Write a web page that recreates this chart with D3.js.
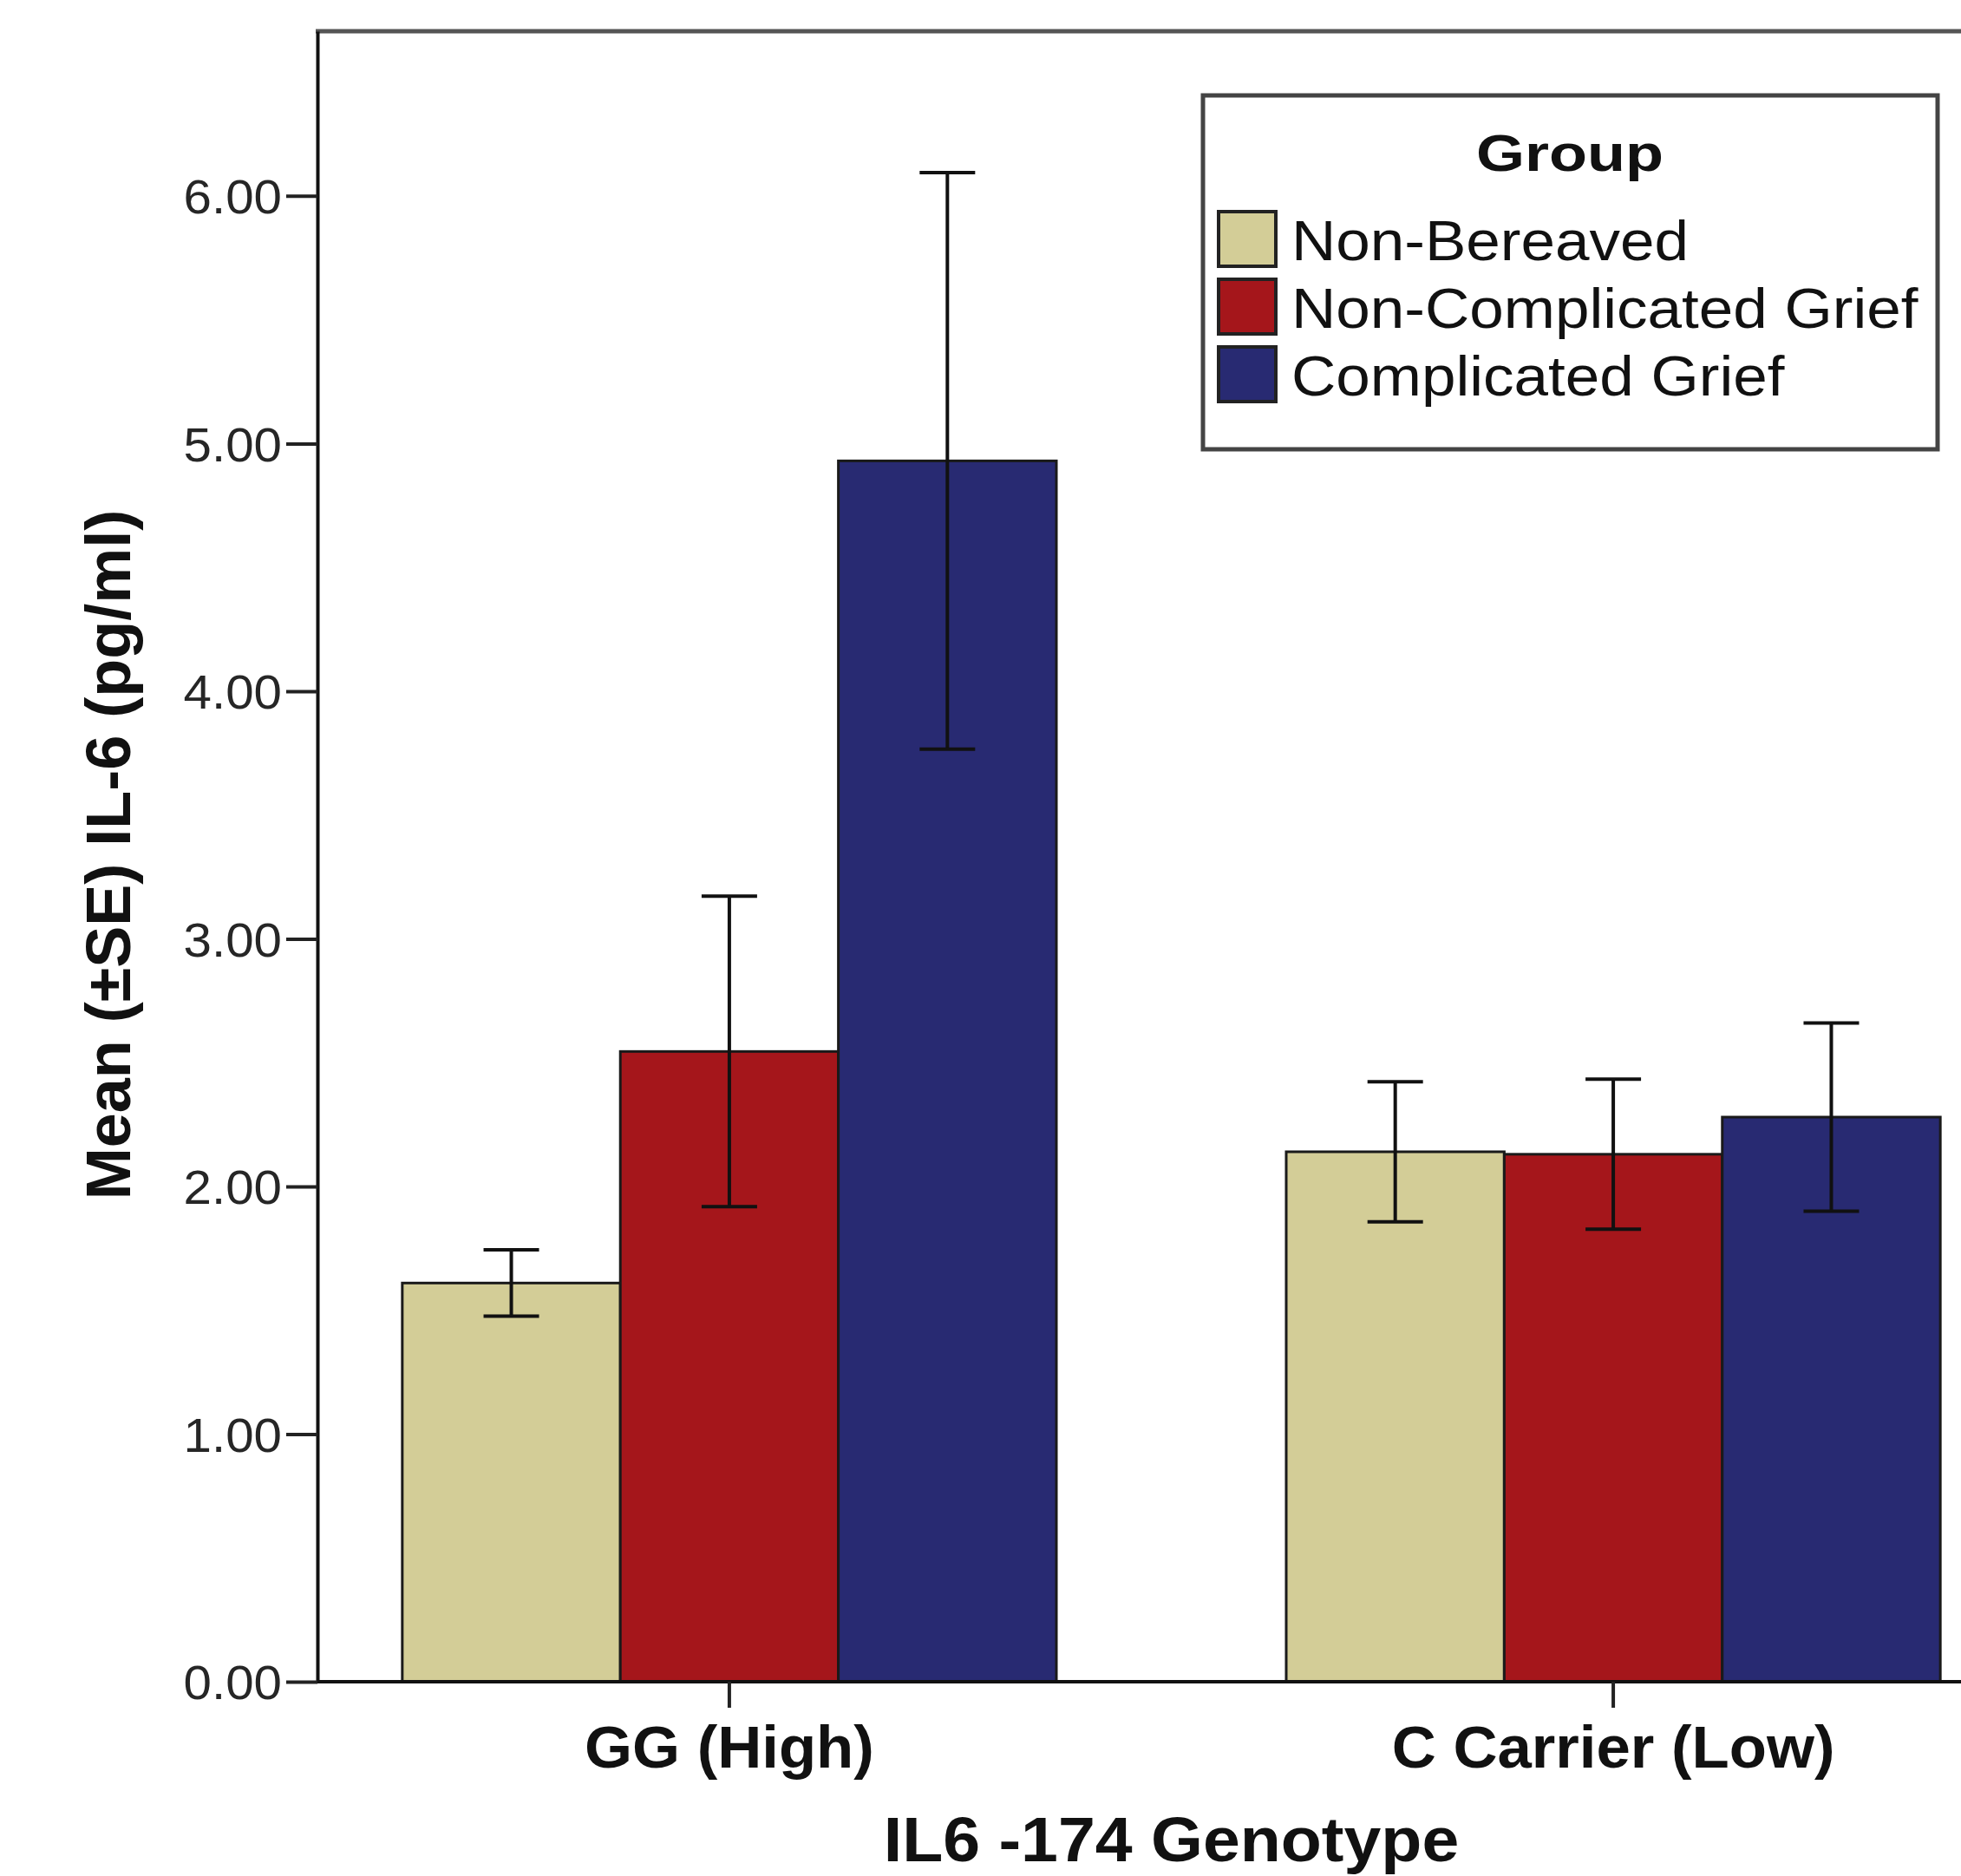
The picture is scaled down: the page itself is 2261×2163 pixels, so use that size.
<!DOCTYPE html>
<html>
<head>
<meta charset="utf-8">
<script src="https://cdn.jsdelivr.net/npm/d3@7"></script>
<style>
  html, body { margin: 0; padding: 0; background: #fff; overflow: hidden; }
  svg { display: block; }
  text { font-family: "Liberation Sans", Arial, Helvetica, sans-serif; }
</style>
</head>
<body>
<svg id="chart" width="2261" height="2163"></svg>
<script>
// ---- data ----
const categories = ["GG (High)", "C Carrier (Low)"];
const groups = ["Non-Bereaved", "Non-Complicated Grief", "Complicated Grief"];
const meanNonBereaved = [1.61, 2.14];
const meanNonComplicated = [2.545, 2.13];
const meanComplicated = [4.93, 2.28];
const seNonBereaved = [0.134, 0.283];
const seNonComplicated = [0.627, 0.303];
const seComplicated = [1.164, 0.38];
const yTicks = [0, 1, 2, 3, 4, 5, 6];
const yMax = 6.665;
const groupColors = ["#D3CD97", "#A5161B", "#282A72"];
const yTitle = "Mean (±SE) IL-6 (pg/ml)";
const xTitle = "IL6 -174 Genotype";
const legendTitle = "Group";

(function () {
const means = [meanNonBereaved, meanNonComplicated, meanComplicated];
const ses = [seNonBereaved, seNonComplicated, seComplicated];
const rows = [];
categories.forEach((c, ci) => {
  groups.forEach((g, gi) => {
    rows.push({ cat: c, group: g, gi, mean: means[gi][ci], se: ses[gi][ci] });
  });
});

// ---- layout ----
const svg = d3.select("#chart");
const pLeft = 366, pRight = 2335, pTop = 36, pBottom = 1939;

const x0 = d3.scaleBand().domain(categories).range([pLeft, pRight])
  .paddingInner(0.26).paddingOuter(0.096);
const x1 = d3.scaleBand().domain(groups).range([0, x0.bandwidth()]).padding(0);
const y = d3.scaleLinear().domain([0, yMax]).range([pBottom, pTop]);
const color = d3.scaleOrdinal().domain(groups).range(groupColors);

svg.append("rect").attr("width", 2261).attr("height", 2163).attr("fill", "#fff");

// frame (top border, right part cropped)
svg.append("line").attr("x1", pLeft - 2).attr("x2", pRight).attr("y1", pTop).attr("y2", pTop)
  .attr("stroke", "#555").attr("stroke-width", 5);

// bars
svg.append("g").selectAll("rect").data(rows).join("rect")
  .attr("x", d => x0(d.cat) + x1(d.group))
  .attr("y", d => y(d.mean))
  .attr("width", x1.bandwidth())
  .attr("height", d => y(0) - y(d.mean))
  .attr("fill", d => color(d.group))
  .attr("stroke", "#1a1a1a")
  .attr("stroke-width", 3);

// error bars
const capW = 64;
const eb = svg.append("g").attr("stroke", "#111").attr("stroke-width", 4);
rows.forEach(d => {
  const cx = x0(d.cat) + x1(d.group) + x1.bandwidth() / 2;
  const yHi = y(d.mean + d.se), yLo = y(d.mean - d.se);
  eb.append("line").attr("x1", cx).attr("x2", cx).attr("y1", yHi).attr("y2", yLo);
  eb.append("line").attr("x1", cx - capW / 2).attr("x2", cx + capW / 2).attr("y1", yHi).attr("y2", yHi);
  eb.append("line").attr("x1", cx - capW / 2).attr("x2", cx + capW / 2).attr("y1", yLo).attr("y2", yLo);
});

// y axis
const tickSx = 1.06;
const yAxis = svg.append("g").attr("transform", `translate(${pLeft},0)`)
  .call(d3.axisLeft(y).tickValues(yTicks).tickSize(36).tickSizeOuter(0).tickPadding(5)
    .tickFormat(d3.format(".2f")));
yAxis.select(".domain").attr("stroke", "#111").attr("stroke-width", 4);
yAxis.selectAll(".tick line").attr("stroke", "#222").attr("stroke-width", 4);
yAxis.selectAll(".tick text")
  .attr("font-size", 55).attr("fill", "#262626")
  .attr("x", -41 / tickSx).attr("dy", "0.36em")
  .attr("transform", `scale(${tickSx},1)`);

// x axis
const xAxis = svg.append("g").attr("transform", `translate(0,${pBottom})`)
  .call(d3.axisBottom(x0).tickSize(30).tickSizeOuter(0));
xAxis.select(".domain").attr("stroke", "#111").attr("stroke-width", 4)
  .attr("d", `M${pLeft},0H${pRight}`);
xAxis.selectAll(".tick line").attr("stroke", "#222").attr("stroke-width", 4);
xAxis.selectAll(".tick text")
  .attr("font-size", 68).attr("font-weight", "bold").attr("fill", "#111")
  .attr("y", 99).attr("dy", 0)
  .attr("transform", "scale(1.04,1)");

// axis titles
svg.append("text")
  .attr("transform", `translate(${(pLeft + pRight) / 2},2146) scale(1.07,1)`)
  .attr("text-anchor", "middle").attr("font-size", 72).attr("font-weight", "bold")
  .attr("fill", "#111").text(xTitle);

svg.append("text")
  .attr("transform", `translate(150,${(pTop + pBottom) / 2 - 2}) rotate(-90)`)
  .attr("text-anchor", "middle").attr("font-size", 72).attr("font-weight", "bold")
  .attr("fill", "#111").text(yTitle);

// legend
const lg = svg.append("g");
lg.append("rect").attr("x", 1387).attr("y", 110).attr("width", 847).attr("height", 408)
  .attr("fill", "#fff").attr("stroke", "#444").attr("stroke-width", 5);
lg.append("text")
  .attr("transform", "translate(1810,197) scale(1.2,1)")
  .attr("text-anchor", "middle").attr("font-size", 60).attr("font-weight", "bold")
  .attr("fill", "#111").text(legendTitle);
const items = lg.selectAll("g.item").data(groups).join("g").attr("class", "item")
  .attr("transform", (d, i) => `translate(1405,${244 + i * 78})`);
items.append("rect").attr("width", 66).attr("height", 63)
  .attr("fill", d => color(d)).attr("stroke", "#222").attr("stroke-width", 4);
items.append("text")
  .attr("transform", "translate(84,56) scale(1.11,1)")
  .attr("font-size", 64).attr("fill", "#111").text(d => d);
})();
</script>
</body>
</html>
